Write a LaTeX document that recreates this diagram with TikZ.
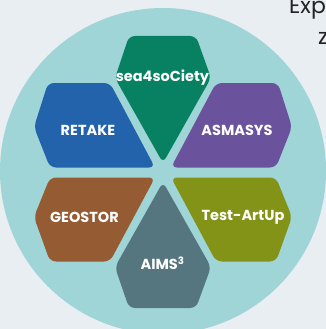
\documentclass[tikz,border=0pt]{standalone}
\usepackage{fontspec}
\setmainfont{Poppins}
\definecolor{bgc}{HTML}{E9EEF2}
\definecolor{circc}{HTML}{A0D5D7}
\definecolor{cSea}{HTML}{088163}
\definecolor{cRet}{HTML}{2363AB}
\definecolor{cAsm}{HTML}{6A529D}
\definecolor{cGeo}{HTML}{955B32}
\definecolor{cTest}{HTML}{839317}
\definecolor{cAims}{HTML}{55767E}
\definecolor{txtc}{HTML}{222222}
\begin{document}
\begin{tikzpicture}[x=1pt,y=-1pt,
  petal/.style={rounded corners=6pt},
  lbl/.style={text=white, font=\bfseries\fontsize{14.5}{16}\selectfont, inner sep=0pt, anchor=center},
  head/.style={text=txtc, font=\fontsize{22}{24}\selectfont, inner sep=0pt, anchor=base west}]
\fill[bgc] (0,0) rectangle (326,329);
\useasboundingbox (0,0) rectangle (326,329);
\fill[circc] (163,171) circle[radius=163pt];
% petals
\fill[cSea,petal] (163,163) -- (211,78) -- (196,36) -- (129,36) -- (115,78) -- cycle;
\fill[cRet,petal] (155,167.5) -- (110,83) -- (48,83) -- (34,127) -- (50,167.5) -- cycle;
\fill[cAsm,petal] (171,167.5) -- (216,83) -- (278,83) -- (292,127) -- (276,167.5) -- cycle;
\fill[cGeo,petal] (155,177.5) -- (50,177.5) -- (34,217) -- (50,261.5) -- (110,261.5) -- cycle;
\fill[cTest,petal] (171,177.5) -- (276,177.5) -- (292,217) -- (276,261.5) -- (216,261.5) -- cycle;
\fill[cAims,petal] (163,182) -- (211,267) -- (196,308) -- (129,308) -- (115,267) -- cycle;
% labels
\node[lbl] (sea) at (162.5,78) {sea4soCiety};
\node[lbl] (ret) at (88,130) {RETAKE};
\node[lbl] (asm) at (237,130) {ASMASYS};
\node[lbl] (geo) at (84.5,217) {GEOSTOR};
\node[lbl] (test) at (243,217) {Test-ArtUp};
\node[lbl] (aims) at (162.5,263) {AIMS\textsuperscript{3}};
% cut-off heading text
\node[head] (exp) at (289,14) {Exp};
\node[head] (z) at (318,45) {z};
\end{tikzpicture}
\end{document}
